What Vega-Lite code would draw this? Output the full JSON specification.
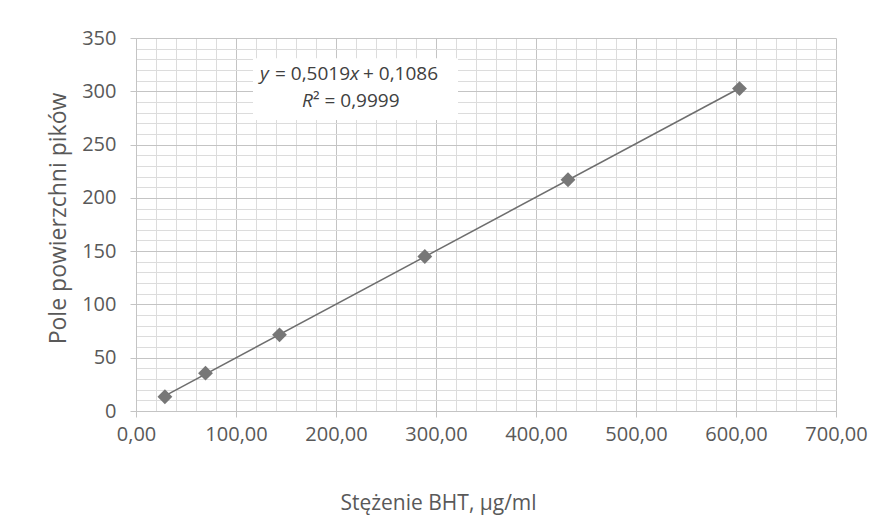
{
  "$schema": "https://vega.github.io/schema/vega-lite/v6.json",
  "width": 700,
  "height": 373,
  "autosize": {"type": "none"},
  "padding": {"left": 136, "top": 38, "right": 48, "bottom": 105},
  "background": "white",
  "config": {"view": {"stroke": null}, "font": "Open Sans"},
  "datasets": {
    "pts": [
      {"c": 28.9, "a": 13.4},
      {"c": 69.5, "a": 35.5},
      {"c": 143.5, "a": 71.5},
      {"c": 288.8, "a": 145.0},
      {"c": 432.0, "a": 217.0},
      {"c": 603.5, "a": 302.5}
    ],
    "box": [{"x1": 117, "x2": 322, "y1": 273, "y2": 331}],
    "ital": [
      {"px": 124, "py": 316, "t": "y"},
      {"px": 214, "py": 316, "t": "x"},
      {"px": 166, "py": 291, "t": "R"}
    ],
    "norm": [
      {"px": 139, "py": 316, "t": "= 0,5019"},
      {"px": 227, "py": 316, "t": "+ 0,1086"},
      {"px": 177, "py": 291, "t": "² = 0,9999"}
    ]
  },
  "encoding": {
    "x": {
      "type": "quantitative",
      "scale": {"domain": [0, 700], "nice": false, "zero": false},
      "axis": {
        "title": "Stężenie BHT, µg/ml",
        "values": [0,20,40,60,80,100,120,140,160,180,200,220,240,260,280,300,320,340,360,380,400,420,440,460,480,500,520,540,560,580,600,620,640,660,680,700],
        "labelExpr": "datum.value % 100 === 0 ? replace(format(datum.value, '.2f'), '.', ',') : ''",
        "gridColor": {"condition": {"test": "datum.value % 100 === 0", "value": "#c4c4c4"}, "value": "#dcdcdc"},
        "tickColor": {"condition": {"test": "datum.value % 100 === 0", "value": "#c4c4c4"}, "value": "transparent"},
        "tickSize": 6,
        "domainColor": "#c4c4c4",
        "labelFont": "Open Sans",
        "labelFontSize": 20,
        "labelColor": "#595959",
        "labelPadding": 7,
        "labelFlush": false,
        "labelOverlap": false,
        "titleFont": "Open Sans",
        "titleFontSize": 21,
        "titleFontWeight": "normal",
        "titleColor": "#595959",
        "titleX": 302,
        "titleY": 98,
        "titleBaseline": "alphabetic"
      }
    },
    "y": {
      "type": "quantitative",
      "scale": {"domain": [0, 350], "nice": false, "zero": false},
      "axis": {
        "title": "Pole powierzchni pików",
        "values": [0,10,20,30,40,50,60,70,80,90,100,110,120,130,140,150,160,170,180,190,200,210,220,230,240,250,260,270,280,290,300,310,320,330,340,350],
        "labelExpr": "datum.value % 50 === 0 ? datum.value : ''",
        "gridColor": {"condition": {"test": "datum.value % 50 === 0", "value": "#c4c4c4"}, "value": "#dcdcdc"},
        "tickColor": {"condition": {"test": "datum.value % 50 === 0", "value": "#c4c4c4"}, "value": "transparent"},
        "tickSize": 6,
        "domainColor": "#c4c4c4",
        "labelFont": "Open Sans",
        "labelFontSize": 20,
        "labelColor": "#595959",
        "labelPadding": 14,
        "labelFlush": false,
        "labelOverlap": false,
        "titleFont": "Open Sans",
        "titleFontSize": 23,
        "titleFontWeight": "normal",
        "titleColor": "#595959",
        "titleX": -71,
        "titleY": 180,
        "titleBaseline": "alphabetic"
      }
    }
  },
  "layer": [
    {
      "data": {"name": "pts"},
      "transform": [{"regression": "a", "on": "c"}],
      "mark": {"type": "line", "color": "#6e6e6e", "strokeWidth": 1.5},
      "encoding": {"x": {"field": "c"}, "y": {"field": "a"}}
    },
    {
      "data": {"name": "pts"},
      "mark": {"type": "point", "shape": "diamond", "filled": true, "size": 220, "color": "#777777", "opacity": 1},
      "encoding": {"x": {"field": "c"}, "y": {"field": "a"}}
    },
    {
      "data": {"name": "box"},
      "mark": {"type": "rect", "color": "white"},
      "encoding": {"x": {"field": "x1"}, "x2": {"field": "x2"}, "y": {"field": "y1"}, "y2": {"field": "y2"}}
    },
    {
      "data": {"name": "ital"},
      "mark": {"type": "text", "font": "Open Sans", "fontSize": 19, "fontStyle": "italic", "color": "#404040", "align": "left", "baseline": "middle"},
      "encoding": {"x": {"field": "px"}, "y": {"field": "py"}, "text": {"field": "t"}}
    },
    {
      "data": {"name": "norm"},
      "mark": {"type": "text", "font": "Open Sans", "fontSize": 19, "color": "#404040", "align": "left", "baseline": "middle"},
      "encoding": {"x": {"field": "px"}, "y": {"field": "py"}, "text": {"field": "t"}}
    }
  ]
}
